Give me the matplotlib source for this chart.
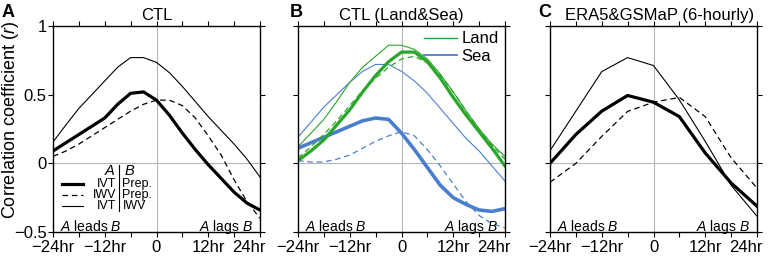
import matplotlib
matplotlib.use("Agg")
import matplotlib.pyplot as plt
from matplotlib.lines import Line2D

plt.rcParams['font.family'] = ['Liberation Sans', 'DejaVu Sans']
plt.rcParams['mathtext.fontset'] = 'custom'
plt.rcParams['mathtext.it'] = 'Liberation Sans:italic'
plt.rcParams['mathtext.rm'] = 'Liberation Sans'

# ---------------- data ----------------
hours_3h = [-24, -21, -18, -15, -12, -9, -6, -3, 0, 3, 6, 9, 12, 15, 18, 21, 24]
hours_6h = [-24, -18, -12, -6, 0, 6, 12, 18, 24]

# Panel A: CTL
a_ivt_prep = [0.09, 0.15, 0.21, 0.27, 0.33, 0.43, 0.51, 0.52, 0.46, 0.35, 0.22, 0.10, -0.01, -0.11, -0.21, -0.29, -0.34]
a_iwv_prep = [0.05, 0.09, 0.14, 0.20, 0.26, 0.32, 0.38, 0.43, 0.46, 0.46, 0.42, 0.33, 0.20, 0.06, -0.12, -0.28, -0.40]
a_ivt_iwv = [0.155, 0.28, 0.40, 0.50, 0.60, 0.70, 0.77, 0.77, 0.735, 0.66, 0.56, 0.45, 0.34, 0.24, 0.14, 0.03, -0.10]

# Panel B: CTL (Land & Sea)
b_land_ivt_prep = [0.02, 0.09, 0.17, 0.28, 0.39, 0.52, 0.64, 0.74, 0.81, 0.81, 0.74, 0.62, 0.48, 0.35, 0.23, 0.11, -0.02]
b_land_iwv_prep = [0.04, 0.12, 0.21, 0.31, 0.42, 0.53, 0.62, 0.70, 0.76, 0.78, 0.73, 0.64, 0.52, 0.38, 0.25, 0.13, 0.03]
b_land_ivt_iwv = [0.12, 0.22, 0.32, 0.45, 0.59, 0.70, 0.78, 0.86, 0.86, 0.83, 0.76, 0.65, 0.52, 0.38, 0.25, 0.14, 0.05]
b_sea_ivt_prep = [0.11, 0.15, 0.19, 0.23, 0.27, 0.31, 0.33, 0.32, 0.22, 0.10, -0.03, -0.16, -0.25, -0.30, -0.34, -0.35, -0.33]
b_sea_iwv_prep = [0.02, 0.01, 0.01, 0.03, 0.06, 0.11, 0.16, 0.20, 0.23, 0.20, 0.10, -0.02, -0.15, -0.28, -0.38, -0.44, -0.47]
b_sea_ivt_iwv = [0.19, 0.30, 0.41, 0.50, 0.59, 0.67, 0.72, 0.72, 0.67, 0.60, 0.51, 0.40, 0.29, 0.18, 0.09, -0.02, -0.13]

# Panel C: ERA5 & GSMaP (6-hourly)
c_ivt_prep = [0.0, 0.21, 0.38, 0.494, 0.445, 0.34, 0.075, -0.143, -0.312]
c_iwv_prep = [-0.138, 0.0, 0.196, 0.378, 0.445, 0.48, 0.34, 0.04, -0.18]
c_ivt_iwv = [0.092, 0.38, 0.668, 0.77, 0.712, 0.462, 0.16, -0.16, -0.385]

xtick_vals = [-24, -12, 0, 12, 24]
xtick_labels = ['\u221224hr', '\u221212hr', '0', '12hr', '24hr']
ytick_vals = [-0.5, 0, 0.5, 1]
ytick_labels = ['\u22120.5', '0', '0.5', '1']
titles = ['CTL', 'CTL (Land&Sea)', 'ERA5&GSMaP (6-hourly)']
panel_letters = ['A', 'B', 'C']

GREEN = '#2aa62a'
BLUE = '#4a7fd0'
THICK = 2.3
THIN = 0.8
DASH = (0, (4.5, 3))

# ---------------- figure ----------------
fig = plt.figure(figsize=(7.68, 2.57), dpi=100)
W, H = 768, 257
lefts = [53, 298, 550]
title_x = [0.5, 0.5, 0.53]
letter_x = [2, 290, 538]
axes = []
for i, lpx in enumerate(lefts):
    ax = fig.add_axes([lpx / W, 25 / H, 207 / W, 206 / H])
    axes.append(ax)
    ax.set_xlim(-24, 24)
    ax.set_ylim(-0.5, 1)
    ax.axvline(0, color='#b5b5b5', lw=0.8, zorder=0)
    ax.axhline(0, color='#b5b5b5', lw=0.8, zorder=0)
    ax.set_xticks(xtick_vals)
    # last label drawn separately (shifted left like the reference)
    ax.set_xticklabels(xtick_labels[:-1] + [''], fontsize=12)
    ax.annotate(xtick_labels[-1], xy=(24, 0), xycoords=('data', 'axes fraction'),
                xytext=(4, -6), textcoords='offset points', ha='right', va='top',
                fontsize=12)
    ax.set_xticks([-18, -6, 6, 18], minor=True)
    ax.set_yticks(ytick_vals)
    if i == 0:
        ax.set_yticklabels(ytick_labels, fontsize=12)
    else:
        ax.set_yticklabels([])
    ax.tick_params(which='both', direction='out', length=3.5, width=0.8,
                   top=True, right=True, color='black')
    ax.tick_params(axis='x', pad=2)
    ax.tick_params(axis='y', pad=1)
    for s in ax.spines.values():
        s.set_linewidth(1.0)
    ax.set_title(titles[i], fontsize=12, pad=4, x=title_x[i])
    ax.text(-22.4, -0.46, r'$\mathit{A}$ leads $\mathit{B}$', fontsize=10, ha='left', va='center')
    ax.text(22.4, -0.46, r'$\mathit{A}$ lags $\mathit{B}$', fontsize=10, ha='right', va='center')
    fig.text(letter_x[i] / W, 1 - 4 / H, panel_letters[i], fontsize=13,
             fontweight='bold', ha='left', va='top')

axes[0].set_ylabel('Correlation coefficient ($\\mathit{r}$)', fontsize=13)
axes[0].yaxis.set_label_coords(-0.155, 0.545)

# Panel A
ax = axes[0]
ax.plot(hours_3h, a_ivt_iwv, color='black', lw=THIN)
ax.plot(hours_3h, a_iwv_prep, color='black', lw=0.9, ls=DASH)
ax.plot(hours_3h, a_ivt_prep, color='black', lw=THICK)

# custom legend in panel A
ax.text(-9.5, -0.055, r'$\mathit{A}$', fontsize=10.5, ha='right', va='center')
ax.text(-7.6, -0.055, r'$\mathit{B}$', fontsize=10.5, ha='left', va='center')
ax.plot([-8.6, -8.6], [-0.01, -0.35], color='black', lw=0.8)
rows_y = [-0.148, -0.228, -0.308]
rows_a = ['IVT', 'IWV', 'IVT']
rows_b = ['Prep.', 'Prep.', 'IWV']
rows_style = [dict(lw=THICK, ls='-'), dict(lw=0.9, ls=DASH), dict(lw=THIN, ls='-')]
for yy, ta, tb, st in zip(rows_y, rows_a, rows_b, rows_style):
    ax.plot([-21.9, -17.0], [yy, yy], color='black', **st)
    ax.text(-9.3, yy, ta, fontsize=9, ha='right', va='center')
    ax.text(-7.9, yy, tb, fontsize=9, ha='left', va='center')

# Panel B
ax = axes[1]
ax.plot(hours_3h, b_sea_ivt_iwv, color=BLUE, lw=THIN)
ax.plot(hours_3h, b_sea_iwv_prep, color=BLUE, lw=0.9, ls=DASH)
ax.plot(hours_3h, b_sea_ivt_prep, color=BLUE, lw=2.6)
ax.plot(hours_3h, b_land_ivt_iwv, color=GREEN, lw=THIN)
ax.plot(hours_3h, b_land_iwv_prep, color=GREEN, lw=0.9, ls=DASH)
ax.plot(hours_3h, b_land_ivt_prep, color=GREEN, lw=THICK)
handles = [Line2D([], [], color=GREEN, lw=1.0), Line2D([], [], color=BLUE, lw=1.3)]
ax.legend(handles, ['Land', 'Sea'], loc='upper right', bbox_to_anchor=(0.985, 0.99),
          frameon=False, fontsize=12, handlelength=2.0, handletextpad=0.25,
          labelspacing=0.15, borderaxespad=0.0, borderpad=0.2)

# Panel C
ax = axes[2]
ax.plot(hours_6h, c_ivt_iwv, color='black', lw=THIN)
ax.plot(hours_6h, c_iwv_prep, color='black', lw=0.9, ls=DASH)
ax.plot(hours_6h, c_ivt_prep, color='black', lw=THICK)

fig.savefig('out.png', dpi=100)
